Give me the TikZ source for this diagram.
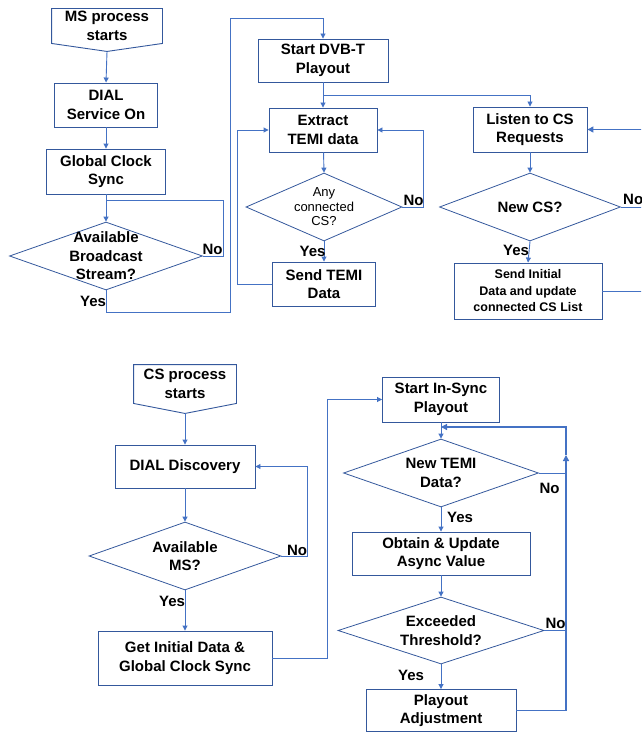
\documentclass[tikz,border=0pt]{standalone}
\usepackage{fontspec}
\setmainfont{Liberation Sans}
\usetikzlibrary{shapes.geometric, arrows.meta, calc}
\definecolor{lineblue}{RGB}{68,114,196}
\definecolor{boxblue}{RGB}{52,88,156}
\newcommand{\mainlbl}{\fontsize{15}{18.5}\selectfont\bfseries}
\newcommand{\smalllbl}{\fontsize{12.5}{16.5}\selectfont\bfseries}
\newcommand{\asklbl}{\fontsize{13}{14.5}\selectfont}
\tikzset{
    procbox/.style={rectangle, draw=boxblue, line width=0.9pt, fill=white, align=center, inner sep=0pt, font=\mainlbl},
    boxsize/.style 2 args={minimum width=#1, minimum height=#2},
    boxline/.style={draw=boxblue, line width=0.9pt},
    decision/.style={diamond, draw=boxblue, line width=0.8pt, inner sep=0pt},
    asktext/.style={align=center, inner sep=0pt, font=\mainlbl},
    line/.style={draw=lineblue, line width=0.9pt},
    flow/.style={line, -{Triangle[length=5pt, width=5pt]}},
    thickflow/.style={draw=lineblue, line width=1.3pt, -{Triangle[length=6pt, width=6pt]}},
    yesno/.style={inner sep=0pt, font=\mainlbl}
}
\begin{document}
\begin{tikzpicture}[x=1pt, y=-1pt]
    \useasboundingbox (0,0) rectangle (641,733);
    \clip (0,0) rectangle (641,733);

    % MS process: start
    \node[procbox, boxsize={110}{34}, draw=none] (msstart) at (107,26) {MS process\\starts};
    \draw[boxline] (msstart.north west) -- (msstart.north east) -- (msstart.south east)
        -- ([yshift=-8pt]msstart.south) coordinate (mstip) -- (msstart.south west) -- cycle;
    \node[procbox, boxsize={103}{44}] (dialon) at (106,105) {DIAL\\Service On};
    \node[procbox, boxsize={119}{45}] (clock) at (106,171.5) {Global Clock\\Sync};
    \node[decision, boxsize={193}{68}] (avail) at (106,256) {};
    \node[asktext] (availq) at (avail) {Available\\Broadcast\\Stream?};

    % MS process: playout branch
    \node[procbox, boxsize={130}{43}] (dvbt) at (323,60.5) {Start DVB-T\\Playout};
    \node[procbox, boxsize={108}{44}] (extract) at (323,130) {Extract\\TEMI data};
    \node[decision, boxsize={156}{68}] (anycs) at (324,207) {};
    \node[asktext, font=\asklbl] (anycsq) at (anycs) {Any\\connected\\CS?};
    \node[procbox, boxsize={103}{44}] (sendtemi) at (324,284) {Send TEMI\\Data};

    % MS process: CS requests branch
    \node[procbox, boxsize={114}{45}] (listen) at (530,129.5) {Listen to CS\\Requests};
    \node[decision, boxsize={181}{68}] (newcs) at (530,207) {};
    \node[asktext] (newcsq) at (newcs) {New CS?};
    \node[procbox, boxsize={148}{56}, font=\smalllbl] (sendinit) at (528,291) {Send Initial\\Data and update\\connected CS List};

    % CS process
    \node[procbox, boxsize={102}{38}, draw=none] (csstart) at (185,384) {CS process\\starts};
    \draw[boxline] (csstart.north west) -- (csstart.north east) -- (csstart.south east)
        -- ([yshift=-10pt]csstart.south) coordinate (cstip) -- (csstart.south west) -- cycle;
    \node[procbox, boxsize={140}{43}] (dialdisc) at (185,466.5) {DIAL Discovery};
    \node[decision, boxsize={192}{68}] (availms) at (185,556) {};
    \node[asktext] (availmsq) at (availms) {Available\\MS?};
    \node[procbox, boxsize={174}{54}] (getinit) at (185,658) {Get Initial Data \&\\Global Clock Sync};

    \node[procbox, boxsize={117}{45}] (insync) at (441,399.5) {Start In-Sync\\Playout};
    \node[decision, boxsize={195}{68}] (newtemi) at (441,473) {};
    \node[asktext] (newtemiq) at (newtemi) {New TEMI\\Data?};
    \node[procbox, boxsize={178}{43}] (obtain) at (441,553.5) {Obtain \& Update\\Async Value};
    \node[decision, boxsize={206}{67}] (exceeded) at (441,630.5) {};
    \node[asktext] (exceededq) at (exceeded) {Exceeded\\Threshold?};
    \node[procbox, boxsize={150}{42}] (playadj) at (441,710.5) {Playout\\Adjustment};

    % Loop corners
    \coordinate (msjoin) at (106,200);
    \coordinate (msyes) at (230,312);
    \coordinate (mstop) at (230,18);
    \coordinate (split) at ($(dvbt.south)!0.5!(extract.north)$);
    \coordinate (csback) at (655,210);
    \coordinate (adjcol) at (566,455);
    \coordinate (temiin) at (441,427);

    % Arrows: MS process
    \draw[flow] (mstip) -- (dialon.north);
    \draw[flow] (dialon) -- (clock);
    \draw[flow] (clock.south) -- (avail.north);
    \draw[line] (avail.east) -- ++(21,0) |- (msjoin);
    \draw[flow] (avail.south) |- (msyes) -- (mstop) -| (dvbt.north);
    \draw[flow] (dvbt) -- (extract);
    \draw[flow] (split) -| (listen.north);
    \draw[flow] (extract) -- (anycs.north);
    \draw[flow] (anycs.east) -- ++(21,0) |- (extract.east);
    \draw[flow] (anycs.south) -- (sendtemi.north);
    \draw[flow] (sendtemi.west) -- ++(-35,0) |- (extract.west);
    \draw[flow] (listen) -- (newcs.north);
    \draw[flow] (newcs.south) -- (sendinit.north);
    \draw[line] (newcs.east) -- (csback |- newcs.east);
    \draw[line] (sendinit.east) -| (csback);
    \draw[thickflow] (csback) |- (listen.east);

    % Arrows: CS process
    \draw[flow] (cstip) -- (dialdisc.north);
    \draw[flow] (dialdisc) -- (availms.north);
    \draw[flow] (availms.east) -- ++(26,0) |- (dialdisc.east);
    \draw[flow] (availms.south) -- (getinit.north);
    \draw[flow] (getinit.east) -- ++(55,0) |- (insync.west);
    \draw[flow] (insync) -- (newtemi.north);
    \draw[flow] (newtemi.south) -- (obtain.north);
    \draw[flow] (obtain) -- (exceeded.north);
    \draw[flow] (exceeded.south) -- (playadj.north);
    \draw[line] (newtemi.east) -- (adjcol |- newtemi.east);
    \draw[line] (exceeded.east) -- (adjcol |- exceeded.east);
    \draw[thickflow] (playadj.east) -| (adjcol);
    \draw[thickflow] (adjcol) |- (temiin);

    % Yes / No labels
    \node[yesno] (availno) at (212.5,249) {No};
    \node[yesno] (availyes) at (93,301) {Yes};
    \node[yesno] (anycsno) at (413.5,200) {No};
    \node[yesno] (anycsyes) at (312.5,251) {Yes};
    \node[yesno, anchor=west] (newcsno) at (623,199) {No};
    \node[yesno] (newcsyes) at (516,250) {Yes};
    \node[yesno] (availmsno) at (297,550) {No};
    \node[yesno] (availmsyes) at (172,601) {Yes};
    \node[yesno] (newtemino) at (549.5,488) {No};
    \node[yesno] (newtemiyes) at (460,517) {Yes};
    \node[yesno] (exceededno) at (555.5,623.5) {No};
    \node[yesno] (exceededyes) at (411,675) {Yes};

\end{tikzpicture}
\end{document}
